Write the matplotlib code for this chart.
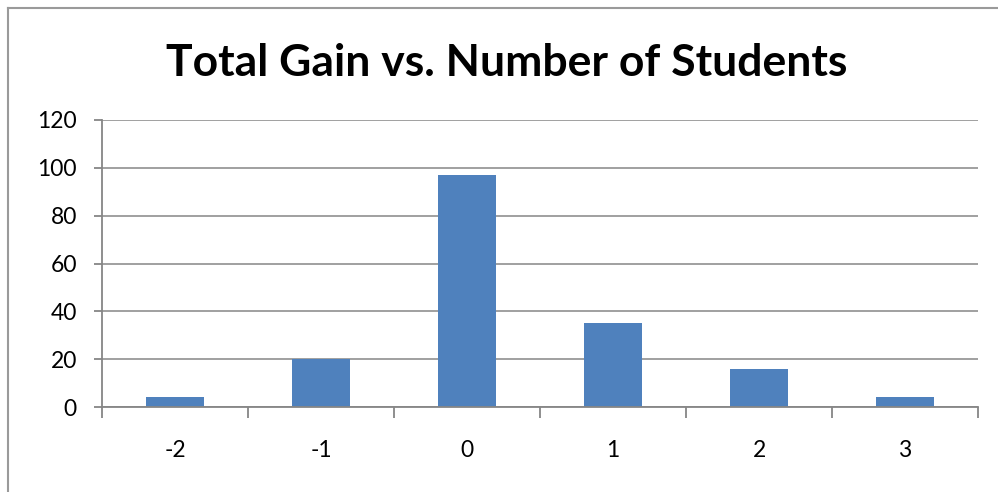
import matplotlib
matplotlib.use("Agg")
import matplotlib.pyplot as plt
from matplotlib.lines import Line2D
import numpy as np

categories = ["-2", "-1", "0", "1", "2", "3"]
values = [4, 20, 97, 35, 16, 4]
yticks = [0, 20, 40, 60, 80, 100, 120]
title = "Total Gain vs. Number of Students"

W, H = 998, 492
fig = plt.figure(figsize=(W / 100, H / 100), dpi=100)
ax = fig.add_axes([102 / W, 1 - 407 / H, (978 - 102) / W, (407 - 120) / H])

gray = "#868686"
x = np.arange(len(categories))
ax.bar(x, values, width=0.4, color="#4F81BD", zorder=3)

ax.set_xlim(-0.5, len(categories) - 0.5)
ax.set_ylim(0, 120)
ax.set_yticks(yticks)
ax.set_yticklabels([str(v) for v in yticks], fontsize=16.5, family="Lato")
ax.set_xticks(x)
ax.set_xticklabels(categories, fontsize=16.5, family="Lato")
ax.set_xticks(np.arange(-0.5, len(categories)), minor=True)
ax.tick_params(axis="x", which="major", length=0, pad=24)
ax.tick_params(axis="x", which="minor", length=8, color=gray, width=1.3)
ax.tick_params(axis="y", length=6, color=gray, width=1.3, pad=12)
ax.grid(axis="y", color=gray, linewidth=1.1, zorder=0)
for s in ["top", "right"]:
    ax.spines[s].set_visible(False)
for s in ["left", "bottom"]:
    ax.spines[s].set_color(gray)
    ax.spines[s].set_linewidth(1.3)
    ax.spines[s].set_zorder(4)

fig.text(0.508, 1 - 63 / H, title, ha="center", va="center",
         fontsize=32, fontweight="bold", family="Lato")

# outer chart border (left and top edges visible)
fig.add_artist(Line2D([8 / W, 8 / W], [0, 1 - 8 / H], color="#9a9a9a", linewidth=1.5))
fig.add_artist(Line2D([8 / W, 1], [1 - 8 / H, 1 - 8 / H], color="#9a9a9a", linewidth=1.5))

fig.savefig("out.png", dpi=100)
